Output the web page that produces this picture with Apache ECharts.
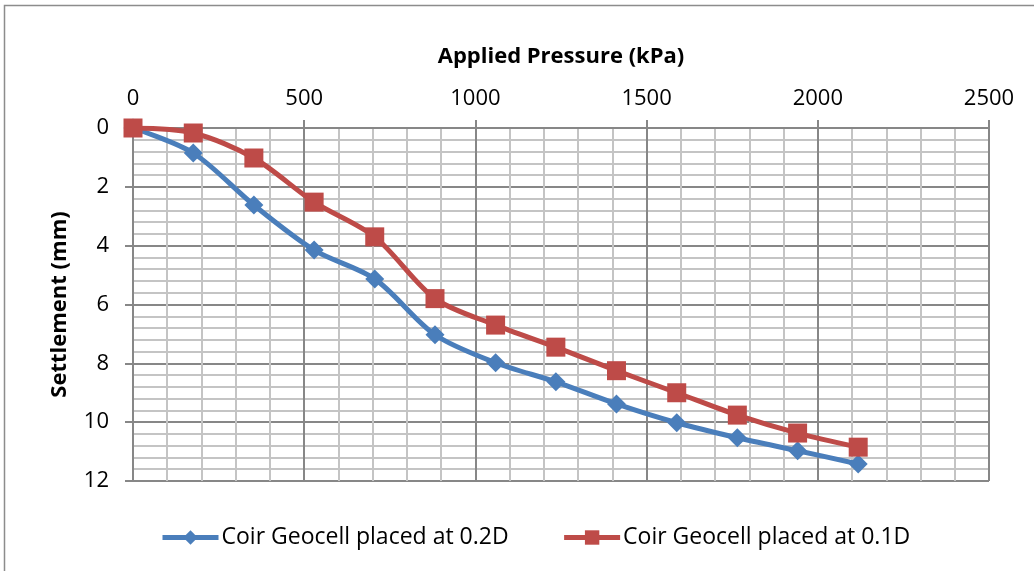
<!DOCTYPE html>
<html>
<head>
<meta charset="utf-8">
<script src="https://cdn.jsdelivr.net/npm/echarts@6/dist/echarts.min.js"></script>
<style>
  html, body { margin: 0; padding: 0; background: #fff; }
  #chart { width: 1034px; height: 571px; }
</style>
</head>
<body>
<div id="chart"></div>
<script>
// applied pressure (kPa) at each load step
const pressure = [0, 176, 353, 529, 706, 882, 1059, 1235, 1412, 1588, 1765, 1941, 2118]
// settlement (mm)
const settle02D = [0, 0.85, 2.62, 4.15, 5.13, 7.03, 7.98, 8.63, 9.38, 10.02, 10.53, 10.97, 11.42]
const settle01D = [0, 0.17, 1.02, 2.52, 3.7, 5.8, 6.7, 7.45, 8.25, 9.0, 9.76, 10.37, 10.85]
const seriesNames = ['Coir Geocell placed at 0.2D', 'Coir Geocell placed at 0.1D']

const fontFamily = '"Open Sans", "Noto Sans", sans-serif'
const majorGrid = '#878787'
const minorGrid = '#c4c4c4'

const chart = echarts.init(document.getElementById('chart'))

const toPairs = (xs, ys) => xs.map((x, i) => [x, ys[i]])

chart.setOption({
    animation: false,
    textStyle: { fontFamily },
    graphic: [{
        type: 'rect',
        shape: { x: 4.5, y: 5.5, width: 1100, height: 700 },
        style: { fill: 'none', stroke: '#8c8c8c', lineWidth: 1.5 },
        silent: true
    }],
    grid: {
        left: 133,
        right: 45,
        top: 128,
        bottom: 90
    },
    legend: {
        bottom: 17,
        left: 155,
        itemGap: 53,
        itemWidth: 56,
        itemHeight: 18,
        textStyle: { fontSize: 23, color: '#000', fontFamily, padding: [0, 0, 0, -2] },
        lineStyle: { width: 5 },
        data: seriesNames
    },
    xAxis: {
        type: 'value',
        position: 'top',
        min: 0,
        max: 2500,
        interval: 500,
        name: 'Applied Pressure (kPa)',
        nameLocation: 'middle',
        nameGap: 60,
        nameTextStyle: { fontSize: 22, fontWeight: 'bold', color: '#000', fontFamily },
        axisLine: { show: true, lineStyle: { color: majorGrid, width: 2 } },
        axisTick: { show: true, length: 8, inside: false, lineStyle: { color: majorGrid, width: 2 } },
        axisLabel: { fontSize: 22, color: '#000', margin: 18, formatter: v => String(v) },
        splitLine: { show: true, lineStyle: { color: majorGrid, width: 2 } },
        minorSplitLine: { show: true, lineStyle: { color: minorGrid, width: 2 } },
        minorTick: { show: false, splitNumber: 5 }
    },
    yAxis: {
        type: 'value',
        inverse: true,
        min: 0,
        max: 12,
        interval: 2,
        name: 'Settlement (mm)',
        nameLocation: 'middle',
        nameGap: 62,
        nameRotate: 90,
        nameTextStyle: { fontSize: 22, fontWeight: 'bold', color: '#000', fontFamily },
        axisLine: { show: true, lineStyle: { color: majorGrid, width: 2 } },
        axisTick: { show: true, length: 8, lineStyle: { color: majorGrid, width: 2 } },
        axisLabel: { fontSize: 22, color: '#000', margin: 24 },
        splitLine: { show: true, lineStyle: { color: majorGrid, width: 2 } },
        minorSplitLine: { show: true, lineStyle: { color: minorGrid, width: 2 } },
        minorTick: { show: false, splitNumber: 5 }
    },
    series: [
        {
            name: seriesNames[0],
            type: 'line',
            smooth: 0.3,
            data: toPairs(pressure, settle02D),
            symbol: 'diamond',
            symbolSize: 19,
            color: '#4a7ebb',
            lineStyle: { width: 5, color: '#4a7ebb' },
            itemStyle: { color: '#4a7ebb' },
            z: 3
        },
        {
            name: seriesNames[1],
            type: 'line',
            smooth: 0.3,
            data: toPairs(pressure, settle01D),
            symbol: 'rect',
            symbolSize: 19,
            color: '#be4b48',
            lineStyle: { width: 5, color: '#be4b48' },
            itemStyle: { color: '#be4b48' },
            z: 4
        }
    ]
})
</script>
</body>
</html>
